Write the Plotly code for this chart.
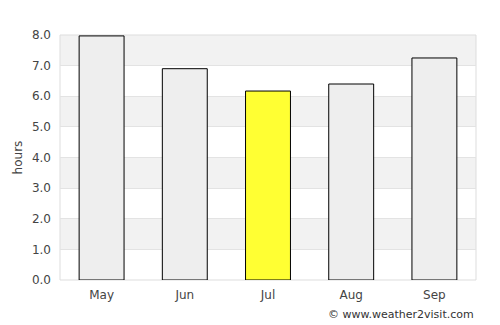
import plotly.graph_objects as go

months = ["May", "Jun", "Jul", "Aug", "Sep"]
hours = [7.97, 6.9, 6.17, 6.4, 7.25]
colors = ["#eeeeee", "#eeeeee", "#ffff33", "#eeeeee", "#eeeeee"]
yticks = [0, 1, 2, 3, 4, 5, 6, 7, 8]

fig = go.Figure()
fig.add_trace(go.Bar(x=months, y=hours, marker=dict(color=colors, line=dict(color="#000000", width=1)), width=0.54))

shapes = []
for lo in [1, 3, 5, 7]:
    shapes.append(dict(type="rect", xref="paper", yref="y", x0=0, x1=1, y0=lo, y1=lo + 1,
                       fillcolor="#f2f2f2", line=dict(width=0), layer="below"))
shapes.append(dict(type="rect", xref="paper", yref="paper", x0=0, x1=1, y0=0, y1=1,
                   line=dict(color="#dddddd", width=1), layer="below"))

fig.update_layout(
    width=500, height=325,
    margin=dict(l=60, r=24, t=35, b=45),
    paper_bgcolor="white", plot_bgcolor="white",
    font=dict(family="DejaVu Sans", size=12, color="#444444"),
    shapes=shapes,
    showlegend=False,
    xaxis=dict(showgrid=False, zeroline=False, showline=False, ticks="", ticklabelstandoff=6,
               tickfont=dict(size=12, color="#444444")),
    yaxis=dict(range=[0, 8], tickvals=yticks, ticktext=[f"{v:.1f}" for v in yticks],
               showgrid=True, gridcolor="#e3e3e3", gridwidth=1, zeroline=False,
               ticklabelstandoff=8,
               title=dict(text="hours", font=dict(size=12, color="#444444"), standoff=6),
               tickfont=dict(size=12, color="#444444"), ticks="", ticklen=0),
    annotations=[dict(text="© www.weather2visit.com", xref="paper", yref="paper", x=1.0, y=-0.105,
                      xanchor="right", yanchor="top", showarrow=False, font=dict(size=11, color="#333333"))]
)
fig.write_html("out.html")
